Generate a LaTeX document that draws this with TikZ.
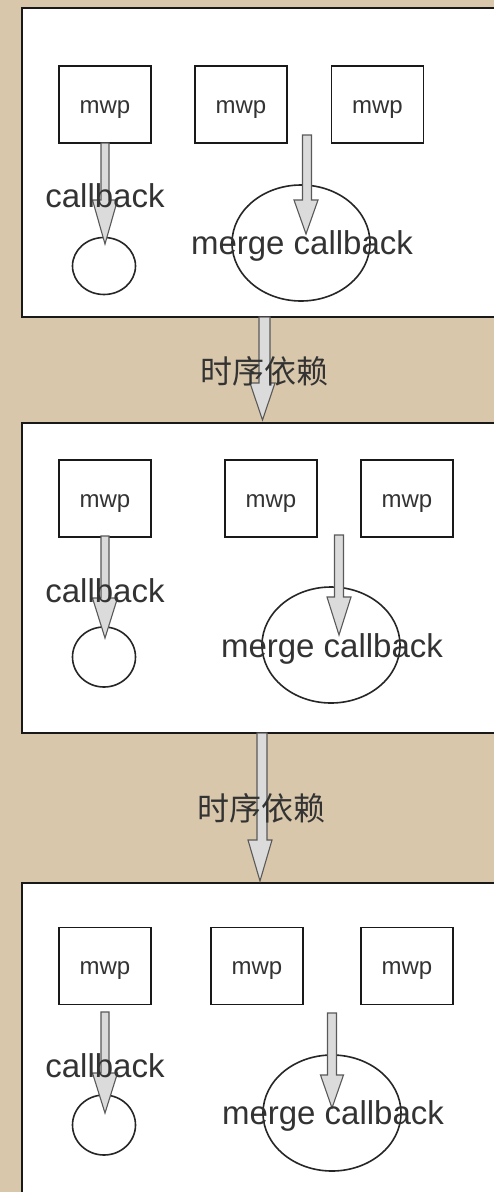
\documentclass[tikz,border=0pt]{standalone}
\usepackage{fontspec}
\setmainfont{Liberation Sans}
\newfontfamily\cjk{Noto Sans CJK SC}
\usetikzlibrary{calc,shapes.geometric}
\definecolor{bg}{RGB}{217,199,171}
\tikzset{
  panel/.style={draw=black!90, line width=2pt, fill=white, rectangle, inner sep=0pt},
  mwpbox/.style={draw=black!90, line width=1.8pt, fill=white, rectangle, minimum width=92pt, minimum height=77pt, inner sep=0pt},
  mwptxt/.style={font=\fontsize{24}{28}\selectfont, text=black!80, inner sep=0pt},
  smallc/.style={draw=black!85, line width=1.6pt, ellipse, minimum width=63pt, minimum height=57pt, inner sep=0pt},
  bigc/.style={draw=black!85, line width=1.6pt, ellipse, minimum width=138pt, minimum height=116pt, inner sep=0pt},
  lbl/.style={font=\fontsize{33}{38}\selectfont, text=black!80, inner sep=0pt},
  cnlbl/.style={font=\cjk\fontsize{32}{38}\selectfont, text=black!80, inner sep=0pt},
  blk/.style={draw=black!65, line width=1.1pt, fill=black!14, line join=miter}
}
\newcommand\blockarr[5]{%
  \draw[blk] let \p1=(#1), \p2=(#2) in
  (\x1-#4pt,\y1) -- (\x1-#4pt,\y2+#3pt) -- (\x2-#5pt,\y2+#3pt) -- (\x2,\y2)
  -- (\x2+#5pt,\y2+#3pt) -- (\x1+#4pt,\y2+#3pt) -- (\x1+#4pt,\y1) -- cycle;}
\newcommand\mwp[2]{%
  \node[mwpbox] (#1) at #2 {};
  \node[mwptxt] (#1t) at ($(#1)+(0,5)$) {mwp};}
\begin{document}
\begin{tikzpicture}[x=1pt,y=-1pt]
\fill[bg] (0,0) rectangle (494,1192);
\useasboundingbox (0,0) rectangle (494,1192);
\clip (0,0) rectangle (494,1192);

% panels
\node[panel, minimum width=480pt, minimum height=309pt] (p1) at (262,162.5) {};
\node[panel, minimum width=480pt, minimum height=310pt] (p2) at (262,578) {};
\node[panel, minimum width=480pt, minimum height=320pt] (p3) at (262,1043) {};

% ---------- panel 1
\mwp{m11}{(105,104.5)}
\mwp{m12}{(241,104.5)}
\mwp{m13}{(377.5,104.5)}
\node[smallc] (c1) at (104,266) {};
\node[bigc] (e1) at (301,243) {};
\coordinate (a1s) at (105,143);
\coordinate (a1t) at (105,244);
\coordinate (b1s) at (307,135);
\coordinate (b1t) at (306,234);
\blockarr{a1s}{a1t}{44}{4}{12.5}
\blockarr{b1s}{b1t}{34}{4.5}{12}
\node[lbl] (l1) at (105,196) {callback};
\node[lbl] (k1) at (302,246) {merge callback};

% connector 1 -> 2
\coordinate (d1s) at (264.5,317);
\coordinate (d1t) at (262.5,420);
\blockarr{d1s}{d1t}{37}{5.5}{12.5}
\node[cnlbl] (t1) at (264,371) {时序依赖};

% ---------- panel 2
\mwp{m21}{(105,498.5)}
\mwp{m22}{(271,498.5)}
\mwp{m23}{(407,498.5)}
\node[smallc, minimum height=60pt] (c2) at (104,657) {};
\node[bigc] (e2) at (331,645) {};
\coordinate (a2s) at (105,536);
\coordinate (a2t) at (105,638);
\coordinate (b2s) at (339,535);
\coordinate (b2t) at (339,635);
\blockarr{a2s}{a2t}{40}{4}{12.5}
\blockarr{b2s}{b2t}{38}{4.5}{12}
\node[lbl] (l2) at (105,591) {callback};
\node[lbl] (k2) at (332,649) {merge callback};

% connector 2 -> 3
\coordinate (d2s) at (262,733);
\coordinate (d2t) at (260,881);
\blockarr{d2s}{d2t}{41}{5}{12}
\node[cnlbl] (t2) at (261,808) {时序依赖};

% ---------- panel 3
\mwp{m31}{(105,966)}
\mwp{m32}{(257,966)}
\mwp{m33}{(407,966)}
\node[smallc, minimum height=60pt] (c3) at (104,1125) {};
\node[bigc] (e3) at (332,1113) {};
\coordinate (a3s) at (105,1012);
\coordinate (a3t) at (105,1113);
\coordinate (b3s) at (332,1013);
\coordinate (b3t) at (332,1108);
\blockarr{a3s}{a3t}{40}{4}{12.5}
\blockarr{b3s}{b3t}{33}{4.5}{11.5}
\node[lbl] (l3) at (105,1066) {callback};
\node[lbl] (k3) at (333,1116) {merge callback};
\end{tikzpicture}
\end{document}
